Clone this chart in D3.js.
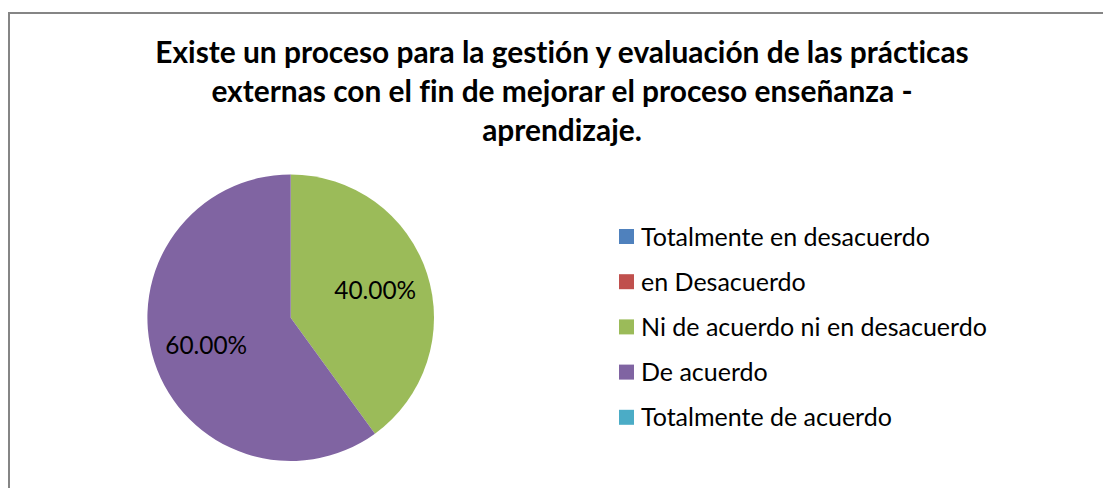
<!DOCTYPE html>
<html>
<head>
<meta charset="utf-8">
<script src="https://cdn.jsdelivr.net/npm/d3@7"></script>
<style>
  html, body { margin: 0; padding: 0; background: #ffffff; }
  svg { display: block; }
  text { font-variant-ligatures: none; font-feature-settings: "liga" 0; }
</style>
</head>
<body>
<div id="chart"></div>
<script>
const titleLines = [
  "Existe un proceso para la gestión y evaluación de las prácticas",
  "externas con el fin de mejorar el proceso enseñanza -",
  "aprendizaje."
];
const categories = [
  "Totalmente en desacuerdo",
  "en Desacuerdo",
  "Ni de acuerdo ni en desacuerdo",
  "De acuerdo",
  "Totalmente de acuerdo"
];
const values = [0, 0, 0.40, 0.60, 0];
const colors = ["#4F81BD", "#C0504D", "#9BBB59", "#8064A2", "#4BACC6"];

const W = 1103, H = 488;
const FONT = "Lato, 'Open Sans', sans-serif";

const svg = d3.select("#chart").append("svg")
  .attr("width", W).attr("height", H);

// chart area border (extends beyond right and bottom edges)
svg.append("rect")
  .attr("x", 9).attr("y", 13)
  .attr("width", W + 20).attr("height", H + 20)
  .attr("fill", "#ffffff")
  .attr("stroke", "#858585")
  .attr("stroke-width", 2);

function fitText(sel, targetWidth) {
  const node = sel.node();
  const cur = parseFloat(sel.attr("font-size"));
  const w = node.getComputedTextLength();
  if (w > 0) sel.attr("font-size", cur * targetWidth / w);
  return parseFloat(sel.attr("font-size"));
}

// title
const titleBaselines = [62.5, 101.5, 140.5];
const titleCx = 562;
const t0 = svg.append("text")
  .attr("x", titleCx).attr("y", titleBaselines[0])
  .attr("text-anchor", "middle")
  .attr("font-family", FONT).attr("font-weight", "bold")
  .attr("font-size", 24).attr("fill", "#000")
  .text(titleLines[0]);
const titleSize = fitText(t0, 814);
titleLines.slice(1).forEach((line, i) => {
  svg.append("text")
    .attr("x", titleCx).attr("y", titleBaselines[i + 1])
    .attr("text-anchor", "middle")
    .attr("font-family", FONT).attr("font-weight", "bold")
    .attr("font-size", titleSize).attr("fill", "#000")
    .text(line);
});

// pie
const cx = 290.7, cy = 317.7, R = 143.3;
const data = categories.map((c, i) => ({ cat: c, value: values[i], color: colors[i] }));
const pie = d3.pie().value(d => d.value).sort(null);
const arcs = pie(data);
const arc = d3.arc().innerRadius(0).outerRadius(R);
const labelArc = d3.arc().innerRadius(R * 0.62).outerRadius(R * 0.62);

const g = svg.append("g").attr("transform", `translate(${cx},${cy})`);
g.selectAll("path.slice")
  .data(arcs.filter(d => d.data.value > 0))
  .join("path")
  .attr("class", "slice")
  .attr("d", arc)
  .attr("fill", d => d.data.color);

const fmt = d3.format(".2%");
const labels = g.selectAll("text.lbl")
  .data(arcs.filter(d => d.data.value > 0))
  .join("text")
  .attr("class", "lbl")
  .attr("transform", d => {
    const [x, y] = labelArc.centroid(d);
    return `translate(${x},${y})`;
  })
  .attr("text-anchor", "middle")
  .attr("dy", "0.36em")
  .attr("font-family", FONT)
  .attr("font-size", 22)
  .attr("fill", "#000")
  .text(d => fmt(d.data.value));
const lblW = labels.nodes()[0].getComputedTextLength();
labels.attr("font-size", 22 * 82 / lblW);

// legend
const legendX = 619, legendTop = 236.5, legendStep = 45.2, sq = 15;
const rows = svg.append("g").selectAll("g.row")
  .data(data)
  .join("g")
  .attr("class", "row")
  .attr("transform", (d, i) => `translate(${legendX},${legendTop + i * legendStep})`);
rows.append("rect")
  .attr("x", 0).attr("y", -sq / 2)
  .attr("width", sq).attr("height", sq)
  .attr("fill", d => d.color);
const legTexts = rows.append("text")
  .attr("x", 22).attr("y", 0)
  .attr("dy", "0.36em")
  .attr("font-family", FONT)
  .attr("font-size", 20)
  .attr("fill", "#000")
  .text(d => d.cat);
const firstW = legTexts.nodes()[0].getComputedTextLength();
legTexts.attr("font-size", 20 * 289 / firstW);
</script>
</body>
</html>
